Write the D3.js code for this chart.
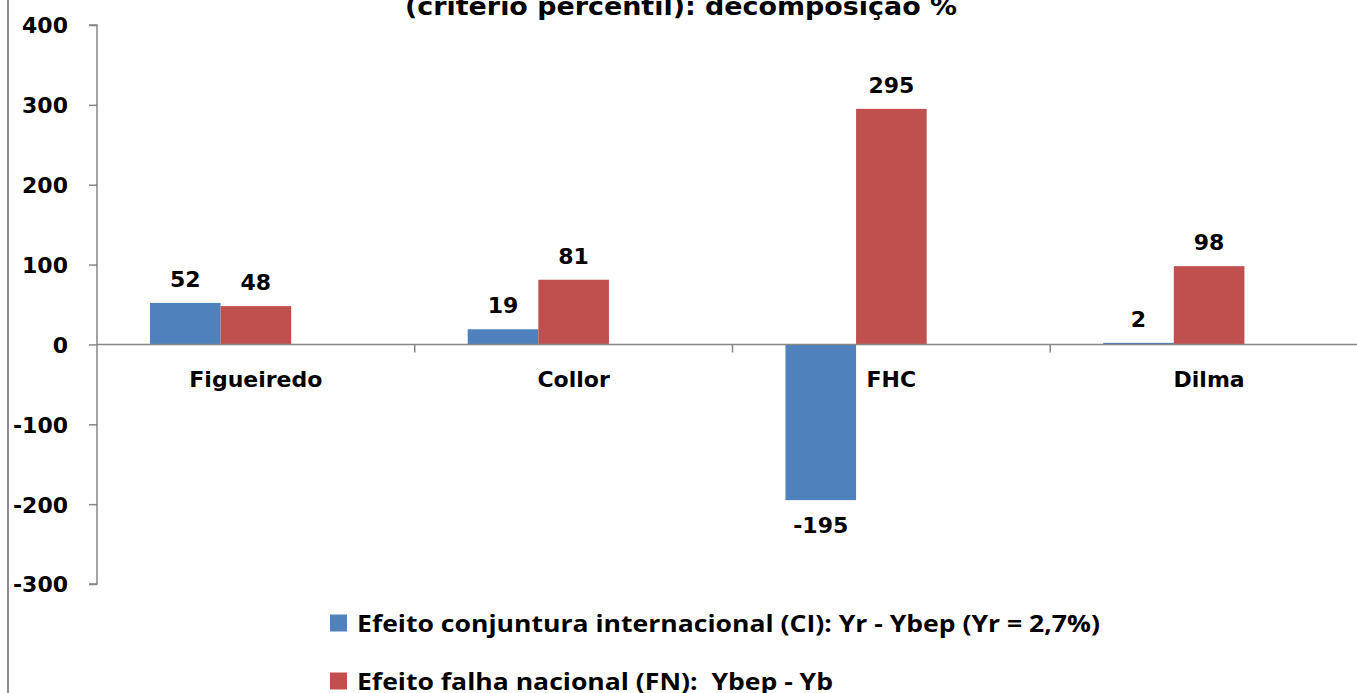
<!DOCTYPE html>
<html>
<head>
<meta charset="utf-8">
<script src="https://cdn.jsdelivr.net/npm/d3@7"></script>
<style>
  html, body { margin: 0; padding: 0; background: #fff; overflow: hidden; }
  svg { display: block; }
</style>
</head>
<body>
<svg id="chart" width="1357" height="693"></svg>
<script>
const categories = ["Figueiredo", "Collor", "FHC", "Dilma"];
const seriesNames = [
  "Efeito conjuntura internacional (CI): Yr - Ybep (Yr = 2,7%)",
  "Efeito falha nacional (FN):  Ybep - Yb"
];
const ciValues = [52, 19, -195, 2];
const fnValues = [48, 81, 295, 98];
const yTicks = [-300, -200, -100, 0, 100, 200, 300, 400];
const titleText = "(critério percentil): decomposição %";
const colors = ["#4F81BD", "#C0504D"];

const svg = d3.select("#chart");
const W = 1357, H = 693;
const axisFont = "'DejaVu Sans', Verdana, sans-serif";

// border on the left
svg.append("line").attr("x1", 8).attr("x2", 8).attr("y1", 0).attr("y2", H)
  .attr("stroke", "#8c8c8c").attr("stroke-width", 2);

const plotLeft = 97;
const bandW = 317.75;
const x0 = d3.scaleBand().domain(categories)
  .range([plotLeft, plotLeft + bandW * categories.length]).paddingInner(0).paddingOuter(0);
// three slots per category (third slot empty as in the original)
const x1 = d3.scaleBand().domain([0, 1, 2]).range([0, bandW]).paddingOuter(0.75).paddingInner(0);
const y = d3.scaleLinear().domain([-300, 400]).range([584, 25]);

const seriesData = [ciValues, fnValues];

// bars
seriesData.forEach((vals, si) => {
  svg.append("g").selectAll("rect").data(vals).join("rect")
    .attr("x", (d, i) => x0(categories[i]) + x1(si))
    .attr("width", x1.bandwidth())
    .attr("y", d => y(Math.max(0, d)))
    .attr("height", d => Math.abs(y(d) - y(0)))
    .attr("fill", colors[si]);
});

// y axis
const yAxis = d3.axisLeft(y).tickValues(yTicks).tickSize(8).tickFormat(d => String(d));
const gy = svg.append("g").attr("transform", `translate(${plotLeft},0)`).call(yAxis);
gy.select(".domain").attr("stroke", "#868686").attr("stroke-width", 1.5).attr("d", `M-8,${y(400)}H0V${y(-300)}H-8`);
gy.selectAll(".tick line").attr("stroke", "#868686").attr("stroke-width", 1.5);
gy.selectAll(".tick text").attr("x", -29).attr("dy", "0.36em")
  .style("font-family", axisFont).style("font-weight", "bold").style("font-size", "22px").attr("fill", "#000");

// x axis at zero
const xAxisG = svg.append("g");
xAxisG.append("line").attr("x1", plotLeft).attr("x2", W).attr("y1", y(0)).attr("y2", y(0))
  .attr("stroke", "#868686").attr("stroke-width", 1.5);
xAxisG.selectAll("line.ct").data(categories.slice(1)).join("line").attr("class", "ct")
  .attr("x1", d => x0(d)).attr("x2", d => x0(d)).attr("y1", y(0)).attr("y2", y(0) + 8)
  .attr("stroke", "#868686").attr("stroke-width", 1.5);
xAxisG.selectAll("text").data(categories).join("text")
  .attr("x", d => x0(d) + bandW / 2).attr("y", 387)
  .attr("text-anchor", "middle")
  .style("font-family", axisFont).style("font-weight", "bold").style("font-size", "22px")
  .text(d => d);

// data labels
seriesData.forEach((vals, si) => {
  svg.append("g").selectAll("text").data(vals).join("text")
    .attr("x", (d, i) => x0(categories[i]) + x1(si) + x1.bandwidth() / 2)
    .attr("y", d => d >= 0 ? y(d) - 16 : y(d) + 33)
    .attr("text-anchor", "middle")
    .style("font-family", axisFont).style("font-weight", "bold").style("font-size", "22px")
    .text(d => d);
});

// title (partially cut off at top, as in the original)
svg.append("text").attr("x", 681).attr("y", 15).attr("text-anchor", "middle")
  .style("font-family", axisFont).style("font-weight", "bold").style("font-size", "24px")
  .attr("textLength", 552).attr("lengthAdjust", "spacingAndGlyphs")
  .text(titleText);

// legend
const legend = svg.append("g");
const legendY = [623, 681];
const legendW = [743, 476];
seriesNames.forEach((name, i) => {
  legend.append("rect").attr("x", 330).attr("y", legendY[i] - 8.5).attr("width", 17).attr("height", 17)
    .attr("fill", colors[i]);
  legend.append("text").attr("x", 357).attr("y", legendY[i]).attr("dy", "0.36em")
    .style("font-family", "'Open Sans', sans-serif").style("font-weight", "bold").style("font-size", "24px")
    .attr("textLength", legendW[i]).attr("lengthAdjust", "spacingAndGlyphs")
    .style("white-space", "pre")
    .text(name);
});
</script>
</body>
</html>
